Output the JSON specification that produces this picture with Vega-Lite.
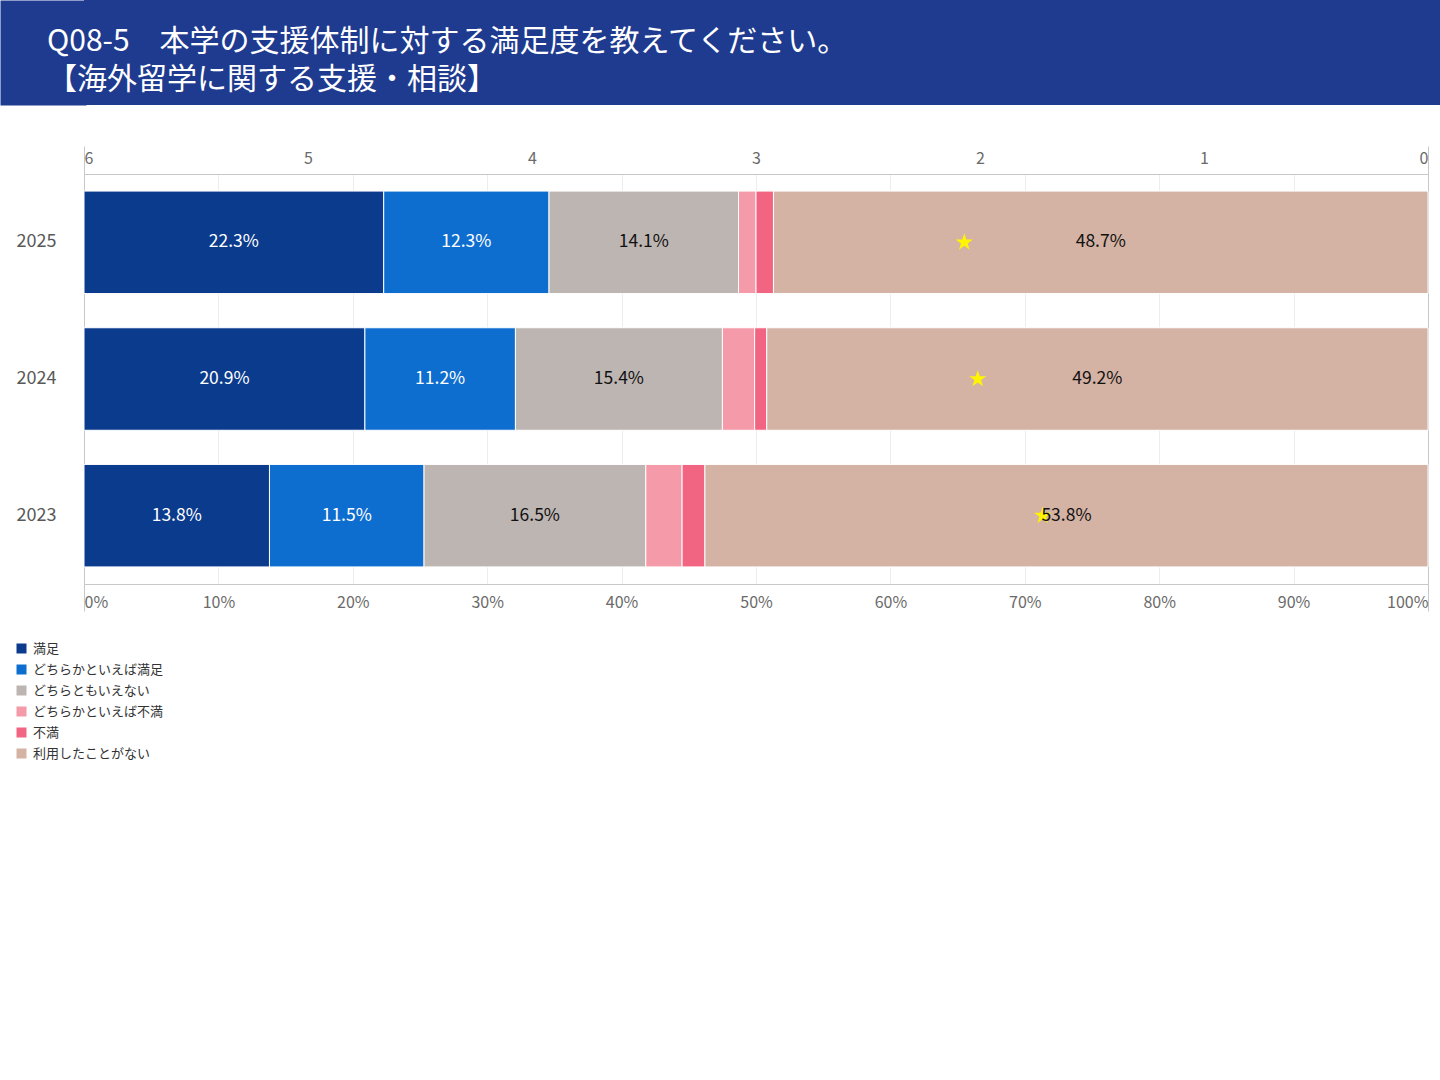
{
  "$schema": "https://vega.github.io/schema/vega-lite/v6.json",
  "padding": 0,
  "background": "white",
  "config": {
    "font": "Noto Sans CJK JP",
    "view": {"stroke": null}
  },
  "datasets": {
    "shares": [
      {"year": "2025", "cat": "満足", "order": 1, "value": 0.223},
      {"year": "2025", "cat": "どちらかといえば満足", "order": 2, "value": 0.123},
      {"year": "2025", "cat": "どちらともいえない", "order": 3, "value": 0.141},
      {"year": "2025", "cat": "どちらかといえば不満", "order": 4, "value": 0.013},
      {"year": "2025", "cat": "不満", "order": 5, "value": 0.013},
      {"year": "2025", "cat": "利用したことがない", "order": 6, "value": 0.487},
      {"year": "2024", "cat": "満足", "order": 1, "value": 0.209},
      {"year": "2024", "cat": "どちらかといえば満足", "order": 2, "value": 0.112},
      {"year": "2024", "cat": "どちらともいえない", "order": 3, "value": 0.154},
      {"year": "2024", "cat": "どちらかといえば不満", "order": 4, "value": 0.024},
      {"year": "2024", "cat": "不満", "order": 5, "value": 0.009},
      {"year": "2024", "cat": "利用したことがない", "order": 6, "value": 0.492},
      {"year": "2023", "cat": "満足", "order": 1, "value": 0.138},
      {"year": "2023", "cat": "どちらかといえば満足", "order": 2, "value": 0.115},
      {"year": "2023", "cat": "どちらともいえない", "order": 3, "value": 0.165},
      {"year": "2023", "cat": "どちらかといえば不満", "order": 4, "value": 0.027},
      {"year": "2023", "cat": "不満", "order": 5, "value": 0.017},
      {"year": "2023", "cat": "利用したことがない", "order": 6, "value": 0.538}
    ],
    "stars": [
      {"year": "2025", "score": 2.07},
      {"year": "2024", "score": 2.01},
      {"year": "2023", "score": 1.72}
    ],
    "banner": [
      {"k": "header"}
    ]
  },
  "concat": [
    {
      "width": 1356,
      "height": 105,
      "title": {
        "text": ["Q08-5　本学の支援体制に対する満足度を教えてください。", "【海外留学に関する支援・相談】"],
        "anchor": "start",
        "frame": "group",
        "orient": "top",
        "offset": -95,
        "dx": -37,
        "color": "white",
        "fontSize": 30,
        "fontWeight": "normal",
        "lineHeight": 38,
        "zindex": 2
      },
      "data": {"name": "banner"},
      "mark": {"type": "rect", "color": "#1f3b8f"},
      "encoding": {
        "y": {
          "field": "k", "type": "nominal",
          "scale": {"paddingInner": 0, "paddingOuter": 0},
          "axis": {
            "title": null, "labels": false, "ticks": false, "grid": false,
            "domain": true, "domainColor": "#1f3b8f", "domainWidth": 86,
            "offset": 41, "minExtent": 43, "maxExtent": 43, "zindex": 0
          }
        }
      }
    },
    {
      "width": 1344,
      "height": 410,
      "layer": [
        {
          "data": {"name": "shares"},
          "transform": [
            {"stack": "value", "groupby": ["year"], "sort": [{"field": "order"}], "as": ["x0", "x1"]}
          ],
          "mark": {"type": "bar", "stroke": "white", "strokeWidth": 1},
          "encoding": {
            "y": {
              "field": "year", "type": "nominal", "sort": ["2025", "2024", "2023"],
              "scale": {"paddingInner": 0.25, "paddingOuter": 0.125},
              "axis": {
                "title": null, "domain": false, "ticks": false, "grid": false,
                "labelAlign": "left", "labelPadding": 68, "labelFontSize": 18,
                "labelColor": "#595959", "minExtent": 84, "maxExtent": 84
              }
            },
            "x": {
              "field": "x0", "type": "quantitative",
              "scale": {"domain": [0, 1], "nice": false},
              "axis": {
                "orient": "bottom", "title": null, "format": ".0%",
                "values": [0, 0.1, 0.2, 0.3, 0.4, 0.5, 0.6, 0.7, 0.8, 0.9, 1],
                "labelFlush": true, "labelFontSize": 16, "labelColor": "#6a6a6a",
                "labelPadding": -17,
                "domain": true, "domainColor": "#c8c8c8",
                "ticks": true, "tickSize": 27, "tickColor": "#c8c8c8",
                "tickOpacity": {"condition": {"test": "datum.value == 0 || datum.value == 1", "value": 1}, "value": 0},
                "grid": true,
                "gridColor": {"condition": {"test": "datum.value == 0 || datum.value == 1", "value": "#c8c8c8"}, "value": "#ededed"}
              }
            },
            "x2": {"field": "x1"},
            "color": {
              "field": "cat", "type": "nominal",
              "scale": {
                "domain": ["満足", "どちらかといえば満足", "どちらともいえない", "どちらかといえば不満", "不満", "利用したことがない"],
                "range": ["#0b3b8c", "#0e6ecf", "#bdb5b1", "#f49aa8", "#f26582", "#d4b2a4"]
              },
              "legend": {
                "title": null, "orient": "none", "legendX": -69, "legendY": 642,
                "direction": "vertical", "symbolType": "square", "symbolSize": 100,
                "symbolStrokeWidth": 0, "labelFontSize": 13, "labelColor": "#333333",
                "labelOffset": 5, "rowPadding": 7
              }
            }
          }
        },
        {
          "data": {"name": "stars"},
          "mark": {
            "type": "point", "filled": true, "opacity": 1, "color": "#fff500",
            "shape": "M0,-1L0.2245,-0.309L0.951,-0.309L0.363,0.118L0.588,0.809L0,0.382L-0.588,0.809L-0.363,0.118L-0.951,-0.309L-0.2245,-0.309Z",
            "size": 330
          },
          "encoding": {
            "y": {"field": "year", "type": "nominal", "sort": ["2025", "2024", "2023"]},
            "x": {
              "field": "score", "type": "quantitative",
              "scale": {"domain": [0, 6], "reverse": true, "nice": false},
              "axis": {
                "orient": "top", "title": null, "values": [0, 1, 2, 3, 4, 5, 6], "format": "d",
                "labelFlush": true, "labelFontSize": 16, "labelColor": "#6a6a6a",
                "labelPadding": -20,
                "domain": true, "domainColor": "#c8c8c8",
                "ticks": true, "tickSize": 28, "tickColor": "#c8c8c8",
                "tickOpacity": {"condition": {"test": "datum.value == 0 || datum.value == 6", "value": 1}, "value": 0},
                "grid": false
              }
            }
          }
        },
        {
          "data": {"name": "shares"},
          "transform": [
            {"stack": "value", "groupby": ["year"], "sort": [{"field": "order"}], "as": ["x0", "x1"]},
            {"fold": ["x0", "x1"], "as": ["edge", "pos"]},
            {"aggregate": [{"op": "mean", "field": "pos", "as": "mid"}], "groupby": ["year", "cat", "order", "value"]},
            {"filter": "datum.value >= 0.05"}
          ],
          "mark": {"type": "text", "fontSize": 17.5, "align": "center", "baseline": "middle"},
          "encoding": {
            "y": {"field": "year", "type": "nominal", "sort": ["2025", "2024", "2023"]},
            "x": {"field": "mid", "type": "quantitative", "scale": {"domain": [0, 1], "nice": false}, "axis": null},
            "text": {"field": "value", "type": "quantitative", "format": ".1%"},
            "color": {
              "condition": {"test": "datum.order <= 2", "value": "white"},
              "value": "#111111"
            }
          }
        }
      ],
      "resolve": {"scale": {"x": "independent"}, "axis": {"x": "independent"}}
    }
  ],
  "columns": 1,
  "spacing": 40
}
